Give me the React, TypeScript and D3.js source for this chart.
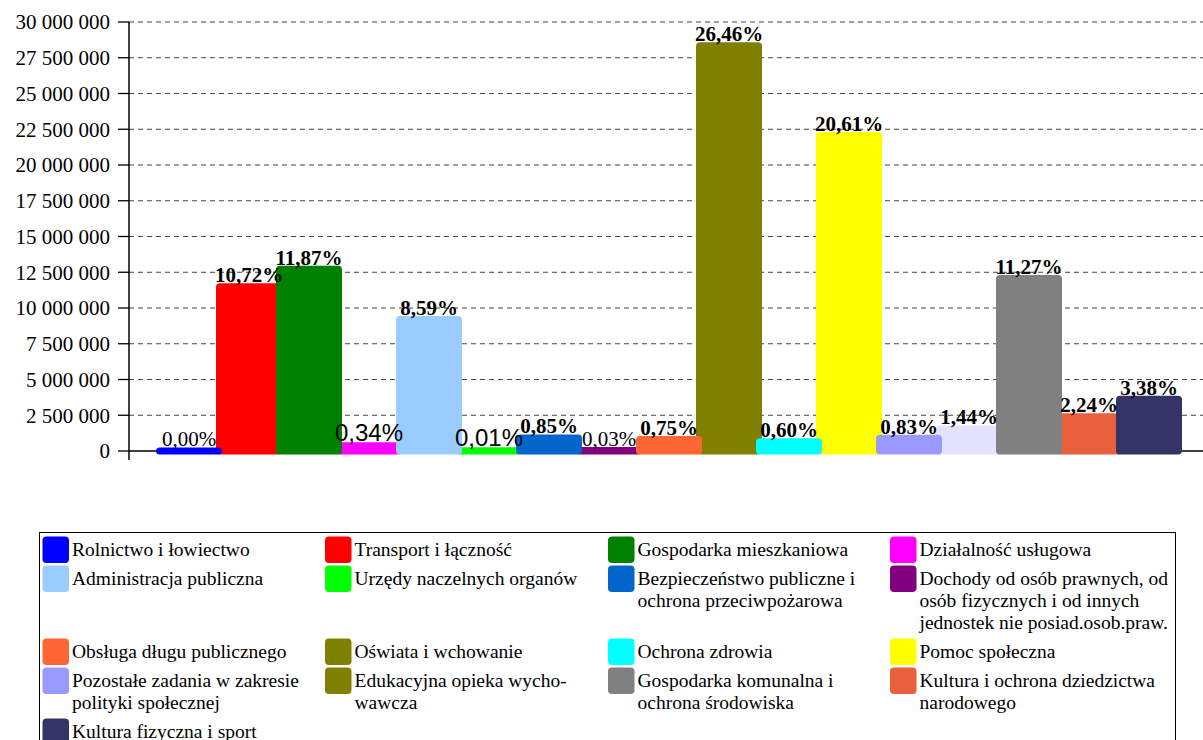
import React from "react";
import * as d3 from "d3";

const categories = [
  "Rolnictwo i łowiectwo",
  "Transport i łączność",
  "Gospodarka mieszkaniowa",
  "Działalność usługowa",
  "Administracja publiczna",
  "Urzędy naczelnych organów",
  "Bezpieczeństwo publiczne i\nochrona przeciwpożarowa",
  "Dochody od osób prawnych, od\nosób fizycznych i od innych\njednostek nie posiad.osob.praw.",
  "Obsługa długu publicznego",
  "Oświata i wchowanie",
  "Ochrona zdrowia",
  "Pomoc społeczna",
  "Pozostałe zadania w zakresie\npolityki społecznej",
  "Edukacyjna opieka wycho-\nwawcza",
  "Gospodarka komunalna i\nochrona środowiska",
  "Kultura i ochrona dziedzictwa\nnarodowego",
  "Kultura fizyczna i sport",
];

const values = [
  3000, 11480000, 12710000, 364000, 9200000, 10700, 910000, 32000, 803000,
  28340000, 643000, 22070000, 889000, 1542000, 12070000, 2400000, 3620000,
];

const percentLabels = [
  "0,00%", "10,72%", "11,87%", "0,34%", "8,59%", "0,01%", "0,85%", "0,03%",
  "0,75%", "26,46%", "0,60%", "20,61%", "0,83%", "1,44%", "11,27%", "2,24%", "3,38%",
];

// label variant: b = bold serif, n = normal serif, s = sans
const labelVariants = ["n", "b", "b", "s", "b", "s", "b", "n", "b", "b", "b", "b", "b", "b", "b", "b", "b"];

const barColors = [
  "#0000FF", "#FF0000", "#008000", "#FF00FF", "#99CCFF", "#00FF00", "#0066CC", "#800080",
  "#FF6633", "#808000", "#00FFFF", "#FFFF00", "#9999FF", "#E3E3FF", "#808080", "#E8603C", "#333366",
];

const legendColors = [
  "#0000FF", "#FF0000", "#008000", "#FF00FF", "#99CCFF", "#00FF00", "#0066CC", "#800080",
  "#FF6633", "#808000", "#00FFFF", "#FFFF00", "#9999FF", "#808000", "#808080", "#E8603C", "#333366",
];

const yTickValues = [
  0, 2500000, 5000000, 7500000, 10000000, 12500000, 15000000, 17500000, 20000000,
  22500000, 25000000, 27500000, 30000000,
];

const W = 1203;
const H = 740;
const SERIF = "'Liberation Serif', 'Times New Roman', serif";
const SANS = "'Liberation Sans', Arial, sans-serif";

export default function App() {
  const plotLeft = 129;
  const plotRight = 1209;
  const plotTop = 22;
  const plotBottom = 451;

  const x = d3.scaleBand<string>().domain(categories).range([plotLeft, plotRight]).paddingInner(0).paddingOuter(0.5);
  const y = d3.scaleLinear().domain([0, 30000000]).range([plotBottom, plotTop]);
  const fmt = d3.formatLocale({ decimal: ",", thousands: " ", grouping: [3], currency: ["", ""] }).format(",");

  const barW = 66;
  const idx = d3.range(categories.length);
  const order = [...idx.filter((i) => i % 2 === 1), ...idx.filter((i) => i % 2 === 0)];

  // legend layout
  const cols = 4;
  const colX = [42.5, 325, 608, 890];
  const lineH = 22;
  const rows: number[][] = [];
  for (let i = 0; i < categories.length; i += cols) rows.push(idx.slice(i, i + cols));
  let cy = 550;
  const legendItems: { i: number; x: number; y: number }[] = [];
  rows.forEach((r) => {
    const nLines = d3.max(r, (i) => categories[i].split("\n").length) || 1;
    r.forEach((i, c) => legendItems.push({ i, x: colX[c], y: cy }));
    cy += (nLines - 1) * lineH + 29;
  });

  return (
    <svg width={W} height={H} style={{ position: "absolute", left: 0, top: 0, background: "#fff" }}>
      <rect x={0} y={0} width={W} height={H} fill="#fff" />
      {/* gridlines */}
      {yTickValues.map((t) => (
        <g key={t}>
          {t > 0 && (
            <line x1={plotLeft} x2={plotRight} y1={y(t)} y2={y(t)} stroke="#444" strokeWidth={1} strokeDasharray="5,4" />
          )}
          <line x1={118} x2={plotLeft} y1={y(t)} y2={y(t)} stroke="#000" strokeWidth={1.3} />
          <text x={110} y={y(t)} dy="0.35em" textAnchor="end" fontFamily={SERIF} fontSize={21} fill="#000">
            {fmt(t)}
          </text>
        </g>
      ))}
      {/* x baseline */}
      <line x1={plotLeft} x2={plotRight} y1={plotBottom} y2={plotBottom} stroke="#000" strokeWidth={1.5} />
      {/* bars */}
      {order.map((i) => {
        const c = categories[i];
        const cx = (x(c) as number) + x.bandwidth() / 2;
        const top = y(values[i]) - 3.5;
        return (
          <rect
            key={c}
            x={cx - barW / 2}
            y={top}
            width={barW}
            height={y(0) + 3.5 - top}
            rx={4}
            ry={4}
            fill={barColors[i]}
          />
        );
      })}
      {/* y axis */}
      <line x1={plotLeft} x2={plotLeft} y1={plotTop} y2={460} stroke="#000" strokeWidth={1.5} />
      {/* labels */}
      {idx.map((i) => {
        const c = categories[i];
        const cx = (x(c) as number) + x.bandwidth() / 2;
        const v = labelVariants[i];
        return (
          <text
            key={"l" + c}
            x={cx}
            y={y(values[i]) - 4.5}
            textAnchor="middle"
            fontFamily={v === "s" ? SANS : SERIF}
            fontWeight={v === "b" ? "bold" : "normal"}
            fontSize={v === "s" ? 24 : 21}
            fill="#000"
          >
            {percentLabels[i]}
          </text>
        );
      })}
      {/* legend */}
      <rect x={39.5} y={532.5} width={1136} height={230} fill="none" stroke="#000" strokeWidth={1} />
      {legendItems.map(({ i, x: lx, y: ly }) => (
        <g key={"lg" + i}>
          <rect x={lx} y={ly - 13.5} width={26.5} height={26.5} rx={4} ry={4} fill={legendColors[i]} />
          <text x={lx + 29.5} y={ly} fontFamily={SERIF} fontSize={19.5} fill="#000">
            {categories[i].split("\n").map((line, k) => (
              <tspan key={k} x={lx + 29.5} dy={k === 0 ? "0.33em" : lineH}>
                {line}
              </tspan>
            ))}
          </text>
        </g>
      ))}
    </svg>
  );
}
